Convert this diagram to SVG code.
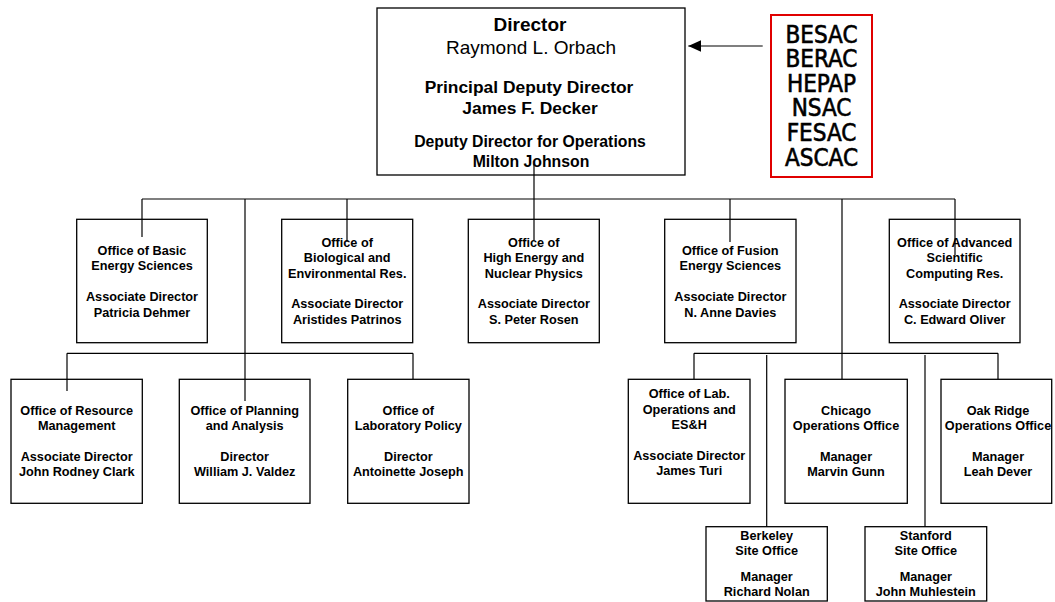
<svg xmlns="http://www.w3.org/2000/svg" width="1055" height="602" viewBox="0 0 1055 602">
<style>
.box{fill:#fff;stroke:#000;stroke-width:1.3}
.ln{fill:none;stroke:#000;stroke-width:1.2}
.t{font-family:"Liberation Sans",Arial,Helvetica,sans-serif;font-weight:bold;font-size:12.7px;text-anchor:middle;fill:#000}
.d{font-family:"Liberation Sans",Arial,Helvetica,sans-serif;font-weight:bold;text-anchor:middle;fill:#000}
.r{font-weight:normal}
.adv{font-family:"DejaVu Sans Condensed","DejaVu Sans",sans-serif;font-stretch:condensed;font-size:24px;text-anchor:middle;fill:#000;stroke:#000;stroke-width:0.6}
</style>
<defs>
<marker id="ah" markerWidth="14" markerHeight="12" refX="13" refY="6" orient="auto" markerUnits="userSpaceOnUse">
<path d="M0,0 L13,6 L0,12 Z" fill="#000"/>
</marker>
</defs>
<rect width="1055" height="602" fill="#fff"/>

<g id="director">
<rect class="box" x="377" y="8" width="308" height="167"/>
<text class="d" x="530" y="31" font-size="19">Director</text>
<text class="d r" x="531" y="54" font-size="19">Raymond L. Orbach</text>
<text class="d" x="529" y="93" font-size="17.4">Principal Deputy Director</text>
<text class="d" x="530" y="114" font-size="17.4">James F. Decker</text>
<text class="d" x="530" y="147" font-size="15.8">Deputy Director for Operations</text>
<text class="d" x="531" y="167" font-size="15.8">Milton Johnson</text>
</g>

<g id="advisory">
<rect x="771" y="15" width="101" height="162" fill="#fff" stroke="#e00000" stroke-width="2"/>
<text class="adv" x="821.5" y="42.7">BESAC</text>
<text class="adv" x="821.5" y="66.8">BERAC</text>
<text class="adv" x="821.5" y="91.5">HEPAP</text>
<text class="adv" x="821.5" y="116.3">NSAC</text>
<text class="adv" x="821.5" y="140.8">FESAC</text>
<text class="adv" x="821.5" y="165.5">ASCAC</text>
</g>

<g id="basic">
<rect class="box" x="76.7" y="219.3" width="130.6" height="123.4"/>
<text class="t"><tspan x="142" y="255">Office of Basic</tspan><tspan x="142" y="270.4">Energy Sciences</tspan><tspan x="142" y="301.2">Associate Director</tspan><tspan x="142" y="316.6">Patricia Dehmer</tspan></text>
</g>

<g id="bio">
<rect class="box" x="281.7" y="219.3" width="131" height="123.4"/>
<text class="t"><tspan x="347.2" y="246.7">Office of</tspan><tspan x="347.2" y="262.1">Biological and</tspan><tspan x="347.2" y="277.5">Environmental Res.</tspan><tspan x="347.2" y="308.3">Associate Director</tspan><tspan x="347.2" y="323.7">Aristides Patrinos</tspan></text>
</g>

<g id="hep">
<rect class="box" x="468.3" y="219.3" width="131" height="123.4"/>
<text class="t"><tspan x="533.8" y="246.7">Office of</tspan><tspan x="533.8" y="262.1">High Energy and</tspan><tspan x="533.8" y="277.5">Nuclear Physics</tspan><tspan x="533.8" y="308.3">Associate Director</tspan><tspan x="533.8" y="323.7">S. Peter Rosen</tspan></text>
</g>

<g id="fusion">
<rect class="box" x="664.7" y="219.3" width="131.3" height="123.4"/>
<text class="t"><tspan x="730.3" y="255">Office of Fusion</tspan><tspan x="730.3" y="270.4">Energy Sciences</tspan><tspan x="730.3" y="301.2">Associate Director</tspan><tspan x="730.3" y="316.6">N. Anne Davies</tspan></text>
</g>

<g id="ascr">
<rect class="box" x="889.3" y="219.3" width="130.7" height="123.4"/>
<text class="t"><tspan x="954.7" y="246.7">Office of Advanced</tspan><tspan x="954.7" y="262.1">Scientific</tspan><tspan x="954.7" y="277.5">Computing Res.</tspan><tspan x="954.7" y="308.3">Associate Director</tspan><tspan x="954.7" y="323.7">C. Edward Oliver</tspan></text>
</g>

<g id="resource">
<rect class="box" x="11" y="379.3" width="131.3" height="124"/>
<text class="t"><tspan x="76.7" y="414.8">Office of Resource</tspan><tspan x="76.7" y="430.2">Management</tspan><tspan x="76.7" y="461">Associate Director</tspan><tspan x="76.7" y="476.4">John Rodney Clark</tspan></text>
</g>

<g id="planning">
<rect class="box" x="179.3" y="379.3" width="130.7" height="124"/>
<text class="t"><tspan x="244.7" y="414.8">Office of Planning</tspan><tspan x="244.7" y="430.2">and Analysis</tspan><tspan x="244.7" y="461">Director</tspan><tspan x="244.7" y="476.4">William J. Valdez</tspan></text>
</g>

<g id="labpolicy">
<rect class="box" x="347.7" y="379.3" width="121.3" height="124"/>
<text class="t"><tspan x="408.3" y="414.8">Office of</tspan><tspan x="408.3" y="430.2">Laboratory Policy</tspan><tspan x="408.3" y="461">Director</tspan><tspan x="408.3" y="476.4">Antoinette Joseph</tspan></text>
</g>

<g id="labops">
<rect class="box" x="628.3" y="379.3" width="121.7" height="124"/>
<text class="t"><tspan x="689.2" y="398.4">Office of Lab.</tspan><tspan x="689.2" y="413.8">Operations and</tspan><tspan x="689.2" y="429.2">ES&amp;H</tspan><tspan x="689.2" y="460">Associate Director</tspan><tspan x="689.2" y="475.4">James Turi</tspan></text>
</g>

<g id="chicago">
<rect class="box" x="785" y="379.3" width="122.3" height="124"/>
<text class="t"><tspan x="846" y="414.5">Chicago</tspan><tspan x="846" y="429.9">Operations Office</tspan><tspan x="846" y="460.7">Manager</tspan><tspan x="846" y="476.1">Marvin Gunn</tspan></text>
</g>

<g id="oakridge">
<rect class="box" x="941" y="379.3" width="110.7" height="124"/>
<text class="t"><tspan x="998" y="414.5">Oak Ridge</tspan><tspan x="998" y="429.9">Operations Office</tspan><tspan x="998" y="460.7">Manager</tspan><tspan x="998" y="476.1">Leah Dever</tspan></text>
</g>

<g id="berkeley">
<rect class="box" x="706" y="526.7" width="121.3" height="74.3"/>
<text class="t"><tspan x="766.7" y="540">Berkeley</tspan><tspan x="766.7" y="555.2">Site Office</tspan><tspan x="766.7" y="580.7">Manager</tspan><tspan x="766.7" y="596">Richard Nolan</tspan></text>
</g>

<g id="stanford">
<rect class="box" x="865" y="526.7" width="121.7" height="74.3"/>
<text class="t"><tspan x="925.8" y="540">Stanford</tspan><tspan x="925.8" y="555.2">Site Office</tspan><tspan x="925.8" y="580.7">Manager</tspan><tspan x="925.8" y="596">John Muhlestein</tspan></text>
</g>

<g id="connectors">
<line class="ln" x1="762.7" y1="46" x2="688.3" y2="46" marker-end="url(#ah)"/>
<path class="ln" d="M534,164 V240"/>
<path class="ln" d="M142,199 H955"/>
<path class="ln" d="M142,199 V237"/>
<path class="ln" d="M245,199 V401"/>
<path class="ln" d="M347,199 V242"/>
<path class="ln" d="M730,199 V242"/>
<path class="ln" d="M842,199 V379"/>
<path class="ln" d="M955,199 V255"/>
<path class="ln" d="M67,353.3 H413"/>
<path class="ln" d="M67,353.3 V391"/>
<path class="ln" d="M413,353.3 V379"/>
<path class="ln" d="M694,353.3 H998"/>
<path class="ln" d="M694,353.3 V379"/>
<path class="ln" d="M998,353.3 V379"/>
<path class="ln" d="M766.7,355 V527"/>
<path class="ln" d="M925,355 V527"/>
</g>
</svg>
